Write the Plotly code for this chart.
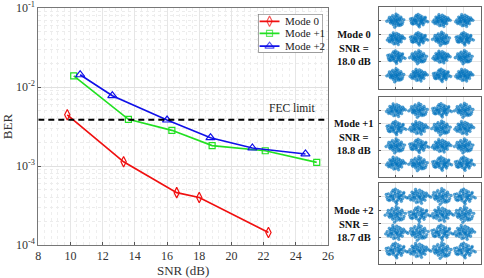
import plotly.graph_objects as go

W, H = 484, 278
FONT = "Liberation Serif"

snr_0 = [9.8, 13.3, 16.6, 18.0, 22.3]
ber_0 = [4.45e-3, 1.13e-3, 4.6e-4, 4.0e-4, 1.44e-4]
snr_1 = [10.2, 13.6, 16.3, 18.8, 22.1, 25.3]
ber_1 = [1.38e-2, 3.9e-3, 2.83e-3, 1.81e-3, 1.56e-3, 1.11e-3]
snr_2 = [10.6, 12.6, 16.0, 18.7, 21.3, 24.6]
ber_2 = [1.43e-2, 7.76e-3, 3.82e-3, 2.28e-3, 1.69e-3, 1.42e-3]
fec_x = [8, 26]
fec_y = [3.85e-3, 3.85e-3]

x_ticks = [8, 10, 12, 14, 16, 18, 20, 22, 24, 26]
y_ticks = [1e-4, 1e-3, 1e-2, 1e-1]
y_tick_labels = ["10<sup>-4</sup>", "10<sup>-3</sup>", "10<sup>-2</sup>", "10<sup>-1</sup>"]

series_names = ["Mode 0", "Mode +1", "Mode +2"]
panel_labels = ["Mode 0<br>SNR =<br>18.0 dB", "Mode +1<br>SNR =<br>18.8 dB", "Mode +2<br>SNR =<br>18.7 dB"]

levels = [-2.0, -0.67, 0.67, 2.0]

# estimated scatter of one cluster around its centre
blob_a_x = [0.02,-0.11,0.14,-0.2,0.24,-0.05,0.09,-0.3,0.31,0.0,-0.16,0.19,-0.38,0.4,-0.08,0.12,-0.26,0.28,0.05,-0.33,0.35,-0.02,-0.45,0.47,0.16,-0.19,0.08,-0.12,0.22,-0.28,0.55,-0.58,0.03,0.33,-0.41,0.43,-0.06,0.25,-0.22,0.1]
blob_a_y = [0.05,0.13,-0.09,-0.18,0.2,-0.27,0.3,0.08,-0.02,0.38,-0.34,-0.3,-0.1,0.14,0.24,0.12,0.28,-0.24,-0.42,-0.2,0.3,-0.12,0.1,-0.14,0.44,0.42,0.0,-0.02,-0.4,0.02,0.07,-0.05,0.55,-0.38,0.28,-0.3,-0.55,0.08,-0.08,-0.2]
blob_b_x = [-0.03,0.1,-0.14,0.18,-0.22,0.06,-0.09,0.27,-0.31,0.15,0.34,-0.18,-0.39,0.42,0.0,-0.26,0.2,-0.47,0.5,0.07,-0.11,0.29,-0.35,0.37,-0.04,0.12,-0.2,0.24,-0.55,0.6,-0.15,0.18,0.44,-0.3,0.04,-0.08,0.3,-0.42,0.09,-0.24]
blob_b_y = [0.02,-0.08,0.11,0.16,-0.05,0.25,-0.2,-0.12,0.14,-0.31,0.1,0.33,-0.14,-0.02,-0.38,-0.28,0.36,0.06,0.12,0.45,-0.42,0.27,0.3,-0.26,0.18,0.04,-0.1,-0.22,-0.1,0.03,0.5,-0.48,0.24,-0.04,-0.02,0.34,0.0,-0.24,-0.16,0.2]
blob_c_x = [0.05,-0.07,0.12,-0.16,0.2,-0.02,0.16,-0.25,0.28,-0.12,0.08,-0.33,0.36,-0.21,0.26,0.01,-0.4,0.44,-0.29,0.13,-0.05,0.32,-0.48,0.52,0.19,-0.1,-0.17,0.23,-0.36,0.39,0.63,-0.52,-0.01,0.07,-0.27,0.14,0.3,-0.14,-0.44,0.46]
blob_c_y = [-0.03,0.09,0.14,-0.12,-0.1,0.22,0.24,0.12,-0.2,-0.28,-0.32,-0.04,0.06,0.3,0.32,-0.4,0.18,0.2,-0.24,0.41,0.35,-0.34,-0.06,-0.02,-0.04,-0.15,0.02,0.05,-0.28,-0.16,-0.1,0.14,0.52,-0.52,0.02,-0.22,0.1,0.44,-0.22,0.28]
blob_x = [blob_a_x, blob_b_x, blob_c_x]
blob_y = [blob_a_y, blob_b_y, blob_c_y]

panel_blobs = [
    [0, 1, 2, 1, 2, 0, 1, 0, 1, 2, 0, 2, 0, 2, 1, 1],
    [1, 0, 2, 2, 0, 2, 1, 0, 2, 1, 0, 1, 1, 0, 2, 0],
    [2, 1, 0, 2, 1, 0, 2, 1, 0, 2, 1, 0, 2, 1, 0, 2],
]
panel_spread = [0.88, 0.96, 1.05]

panel_domains_px = [(7, 89), (97, 177), (183, 264)]
plot_left, plot_right, plot_top, plot_bottom = 38.3, 328, 8, 245
panel_left, panel_right = 378.5, 481
legend_left, legend_right, legend_top, legend_bottom = 258.3, 322.5, 14, 52.7

styles = [("#f01010", "diamond-tall-open", 7.5), ("#22e022", "square-open", 6), ("#1010e8", "triangle-up-open", 8)]
series = [(snr_0, ber_0), (snr_1, ber_1), (snr_2, ber_2)]

fig = go.Figure()

for (x, y), name, (color, symbol, size) in zip(series, series_names, styles):
    fig.add_trace(go.Scatter(
        x=x, y=y, name=name, mode="lines+markers", showlegend=False,
        line=dict(color=color, width=1.7),
        marker=dict(symbol=symbol, size=size, color=color, line=dict(color=color, width=1.2)),
        xaxis="x", yaxis="y"))

fig.add_trace(go.Scatter(x=fec_x, y=fec_y, mode="lines", showlegend=False,
                         line=dict(color="black", width=2, dash="6px,4px"),
                         xaxis="x", yaxis="y"))

for p in range(3):
    xs, ys = [], []
    k = 0
    for cy in levels:
        for cx in levels:
            b = panel_blobs[p][k]
            k += 1
            xs += [cx + v * panel_spread[p] for v in blob_x[b]]
            ys += [cy + v * panel_spread[p] for v in blob_y[b]]
    fig.add_trace(go.Scatter(
        x=xs, y=ys, mode="markers", showlegend=False,
        marker=dict(symbol="circle", size=2.8, color="rgba(0,114,189,0.65)",
                    line=dict(color="rgba(0,114,189,0.6)", width=0.5)),
        xaxis=f"x{p+2}", yaxis=f"y{p+2}"))

# legend box drawn on its own unit axes so it can be as compact as the reference
fig.add_trace(go.Scatter(x=[0, 1, 1, 0, 0], y=[0, 0, 1, 1, 0], mode="lines", fill="toself",
                         fillcolor="white", line=dict(color="#333", width=0.8),
                         showlegend=False, xaxis="x5", yaxis="y5"))
legend_rows = [0.81, 0.5, 0.17]
for row, (color, symbol, size) in zip(legend_rows, styles):
    fig.add_trace(go.Scatter(
        x=[0.02, 0.175, 0.33], y=[row, row, row], mode="lines+markers", showlegend=False,
        line=dict(color=color, width=1.7),
        marker=dict(symbol=symbol, size=[0, size, 0], color=color, line=dict(color=color, width=1.2)),
        xaxis="x5", yaxis="y5"))

layout = dict(
    width=W, height=H,
    margin=dict(l=0, r=0, t=0, b=0, autoexpand=False),
    paper_bgcolor="white", plot_bgcolor="white",
    font=dict(family=FONT, size=12, color="#333333"),
    showlegend=False,
    xaxis=dict(domain=[plot_left / W, plot_right / W], range=[8, 26],
               tickvals=x_ticks, ticks="inside", ticklen=3, tickcolor="#555",
               tickfont=dict(size=12), automargin=False,
               title=dict(text="SNR (dB)", font=dict(size=13), standoff=1),
               showgrid=True, gridcolor="#e6e6e6", gridwidth=0.7,
               showline=True, linecolor="#777", linewidth=0.8, mirror=True,
               zeroline=False, anchor="y",
               minor=dict(dtick=0.4, showgrid=True, gridcolor="#eeeeee", griddash="dot", gridwidth=0.6)),
    yaxis=dict(domain=[1 - plot_bottom / H, 1 - plot_top / H], type="log", range=[-4, -1],
               tickvals=y_ticks, ticktext=y_tick_labels, ticks="inside", ticklen=3, tickcolor="#555",
               tickfont=dict(size=12), automargin=False,
               title=dict(text="BER", font=dict(size=13), standoff=2),
               showgrid=True, gridcolor="#e0e0e0", gridwidth=0.7,
               showline=True, linecolor="#777", linewidth=0.8, mirror=True,
               zeroline=False, anchor="x",
               minor=dict(dtick="D1", showgrid=True, gridcolor="#ececec", griddash="dot", gridwidth=0.6)),
    xaxis5=dict(domain=[legend_left / W, legend_right / W], range=[0, 1], visible=False, anchor="y5"),
    yaxis5=dict(domain=[1 - legend_bottom / H, 1 - legend_top / H], range=[0, 1], visible=False, anchor="x5"),
    annotations=[dict(text="FEC limit", x=292 / W, y=1 - 108 / H, xref="paper", yref="paper",
                      xanchor="center", yanchor="middle",
                      showarrow=False, font=dict(size=11.5, color="#222"))],
)

for name, row in zip(series_names, legend_rows):
    layout["annotations"].append(dict(
        text=name, x=0.385, y=row, xref="x5", yref="y5", xanchor="left", yanchor="middle", showarrow=False,
        font=dict(size=11, color="#222")))

for p, (top, bottom) in enumerate(panel_domains_px):
    n = p + 2
    axis_style = dict(range=[-3, 3], tickvals=[-2, -1, 0, 1, 2], showticklabels=False,
                      ticks="inside", ticklen=2, tickcolor="#555", automargin=False,
                      showgrid=True, gridcolor="#e4e4e4", gridwidth=0.7,
                      showline=True, linecolor="#666", linewidth=1, mirror=True, zeroline=False)
    layout[f"xaxis{n}"] = {**axis_style, "domain": [panel_left / W, panel_right / W], "anchor": f"y{n}"}
    layout[f"yaxis{n}"] = {**axis_style, "domain": [1 - bottom / H, 1 - top / H], "anchor": f"x{n}"}
    layout["annotations"].append(dict(
        text=f"<b>{panel_labels[p]}</b>", x=354 / W, y=1 - (top + bottom) / 2 / H,
        xref="paper", yref="paper", xanchor="center", yanchor="middle", showarrow=False, align="center",
        font=dict(size=10.5, color="#111")))

fig.update_layout(**layout)
fig.write_html("out.html", post_script="document.body.style.margin='0';",
               config=dict(displayModeBar=False))
